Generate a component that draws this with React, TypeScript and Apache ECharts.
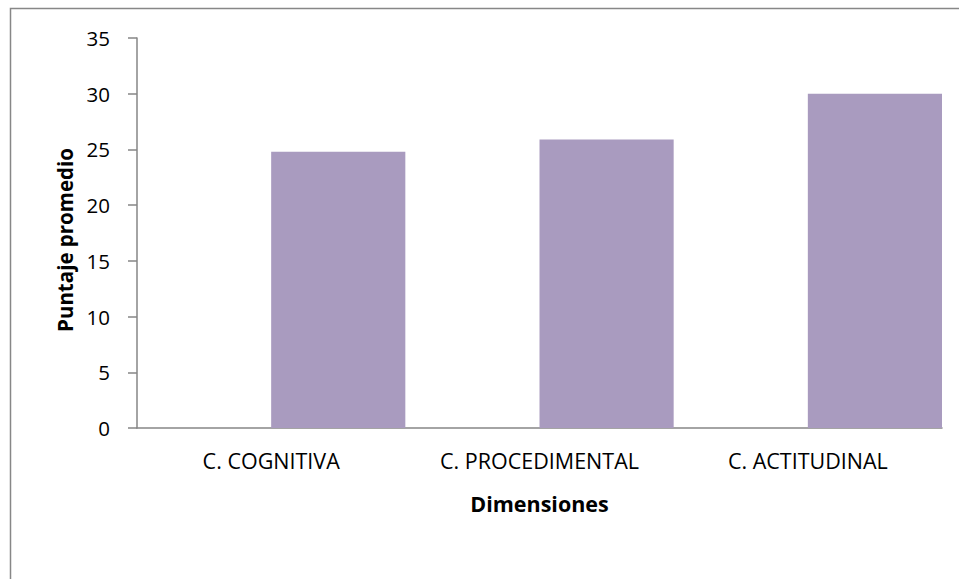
import React, { useEffect, useRef } from "react";
import * as echarts from "echarts";

const categories = ["C. COGNITIVA", "C. PROCEDIMENTAL", "C. ACTITUDINAL"];
const emptySeries: (number | null)[] = [null, null, null];
const puntajes = [24.8, 25.9, 30.0];
const yTicks = { min: 0, max: 35, interval: 5 };
const yTitle = "Puntaje promedio";
const xTitle = "Dimensiones";

const FONT = "'Open Sans', 'Noto Sans', sans-serif";

export default function App() {
  const ref = useRef<HTMLDivElement>(null);

  useEffect(() => {
    if (!ref.current) return;
    const chart = echarts.init(ref.current, undefined, { renderer: "svg" });
    chart.setOption({
      animation: false,
      backgroundColor: "#ffffff",
      textStyle: { fontFamily: FONT, color: "#000" },
      graphic: [
        {
          type: "rect",
          shape: { x: 10.5, y: 8.5, width: 1000, height: 700 },
          style: { fill: "none", stroke: "#878787", lineWidth: 1.5 },
          silent: true,
          z: -1,
        },
        {
          type: "text",
          x: 65,
          y: 240,
          rotation: Math.PI / 2,
          style: {
            text: yTitle,
            fontFamily: FONT,
            fontSize: 20.5,
            fontWeight: "bold",
            fill: "#000",
            align: "center",
            verticalAlign: "middle",
          },
        },
      ],
      grid: { left: 137, right: 17, top: 38, bottom: 151 },
      xAxis: {
        type: "category",
        data: categories,
        name: xTitle,
        nameLocation: "middle",
        nameGap: 64,
        nameTextStyle: { fontFamily: FONT, fontSize: 21.5, fontWeight: "bold", color: "#000" },
        axisLine: { show: true, lineStyle: { color: "#868686", width: 1.5 } },
        axisTick: { show: false },
        axisLabel: { fontFamily: FONT, fontSize: 21.5, color: "#000", margin: 21 },
        splitLine: { show: false },
      },
      yAxis: {
        type: "value",
        min: yTicks.min,
        max: yTicks.max,
        interval: yTicks.interval,
        axisLine: { show: true, lineStyle: { color: "#868686", width: 1.5 } },
        axisTick: { show: true, length: 9, lineStyle: { color: "#868686", width: 1.5 } },
        axisLabel: { fontFamily: FONT, fontSize: 20.5, color: "#000", margin: 27 },
        splitLine: { show: false },
      },
      series: [
        {
          type: "bar",
          data: emptySeries,
          barGap: "0%",
          barCategoryGap: "0%",
        },
        {
          type: "bar",
          data: puntajes,
          barGap: "0%",
          barCategoryGap: "0%",
          itemStyle: { color: "#A99BBF" },
        },
      ],
    });
    return () => chart.dispose();
  }, []);

  return (
    <div
      ref={ref}
      style={{ position: "absolute", left: 0, top: 0, width: 959, height: 579 }}
    />
  );
}
